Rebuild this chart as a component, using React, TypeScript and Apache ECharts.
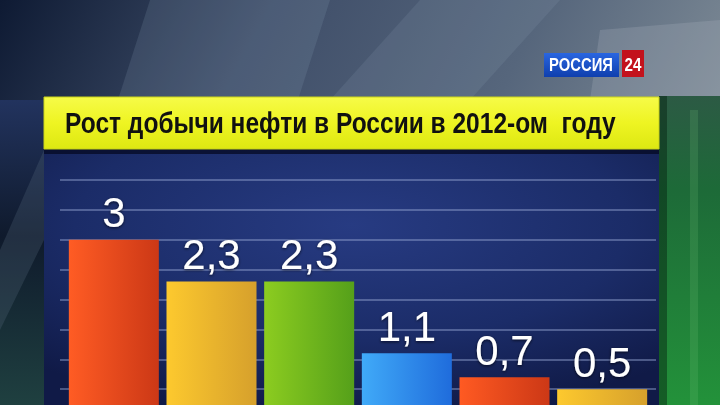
import React, { useEffect, useRef } from "react";
import * as echarts from "echarts";

const categories = ["1", "2", "3", "4", "5", "6"];
const values = [3, 2.3, 2.3, 1.1, 0.7, 0.5];
const yTicks = { min: 0, max: 4, interval: 0.5 };
const titleText = "Рост добычи нефти в России в 2012-ом  году";
const logoText = "РОССИЯ";
const logoNum = "24";

const barPalette: [string, string][] = [
  ["#ff5c24", "#cc3816"],
  ["#fdc92e", "#d6a02c"],
  ["#8ccc20", "#55a01a"],
  ["#40aaf8", "#1f6cdc"],
  ["#ff5a22", "#cc3816"],
  ["#fdc92e", "#d6a02c"],
];

const hGrad = (a: string, b: string) =>
  new echarts.graphic.LinearGradient(0, 0, 1, 0, [
    { offset: 0, color: a },
    { offset: 1, color: b },
  ]);

export default function App() {
  const ref = useRef<HTMLDivElement>(null);
  useEffect(() => {
    if (!ref.current) return;
    const chart = echarts.init(ref.current, null, { renderer: "svg" });
    const bg = [
      {
        type: "rect",
        z: -20,
        shape: { x: 0, y: 0, width: 720, height: 405 },
        style: {
          fill: new echarts.graphic.LinearGradient(0, 0, 1, 0.3, [
            { offset: 0, color: "#0e1a33" },
            { offset: 0.35, color: "#3e4d68" },
            { offset: 0.7, color: "#56667c" },
            { offset: 1, color: "#7e8b96" },
          ]),
        },
      },
      {
        type: "polygon",
        z: -19,
        shape: { points: [[150, 0], [330, 0], [200, 405], [20, 405]] },
        style: { fill: "rgba(140,160,185,0.18)" },
      },
      {
        type: "polygon",
        z: -19,
        shape: { points: [[420, 0], [560, 0], [470, 100], [330, 100]] },
        style: { fill: "rgba(150,165,185,0.15)" },
      },
      {
        type: "polygon",
        z: -19,
        shape: { points: [[600, 30], [720, 20], [720, 100], [590, 100]] },
        style: { fill: "rgba(170,180,190,0.25)" },
      },
      {
        type: "rect",
        z: -18,
        shape: { x: 0, y: 100, width: 44, height: 305 },
        style: {
          fill: new echarts.graphic.LinearGradient(0, 0, 0, 1, [
            { offset: 0, color: "#22335e" },
            { offset: 0.45, color: "#0f1a2c" },
            { offset: 1, color: "#1f4040" },
          ]),
        },
      },
      {
        type: "polygon",
        z: -17,
        shape: { points: [[44, 150], [44, 240], [0, 330], [0, 250]] },
        style: { fill: "rgba(90,110,130,0.25)" },
      },
      {
        type: "rect",
        z: -18,
        shape: { x: 659, y: 96, width: 61, height: 309 },
        style: {
          fill: new echarts.graphic.LinearGradient(0, 0, 0, 1, [
            { offset: 0, color: "#2c5a44" },
            { offset: 0.3, color: "#1d6a38" },
            { offset: 1, color: "#23923a" },
          ]),
        },
      },
      {
        type: "rect",
        z: -17,
        shape: { x: 659, y: 96, width: 8, height: 309 },
        style: { fill: "rgba(5,30,15,0.45)" },
      },
      {
        type: "rect",
        z: -17,
        shape: { x: 690, y: 110, width: 8, height: 295 },
        style: { fill: "rgba(120,200,130,0.18)" },
      },
      {
        type: "rect",
        z: -16,
        shape: { x: 44, y: 148, width: 615, height: 257 },
        style: {
          fill: new echarts.graphic.RadialGradient(0.5, 0.3, 0.75, [
            { offset: 0, color: "#273b82" },
            { offset: 0.6, color: "#1b2c68" },
            { offset: 1, color: "#101a47" },
          ]),
        },
      },
      {
        type: "rect",
        z: -15,
        shape: { x: 44, y: 148, width: 615, height: 6 },
        style: { fill: "rgba(5,10,35,0.75)" },
      },
      {
        type: "rect",
        z: 20,
        shape: { x: 44, y: 97, width: 615, height: 52 },
        style: {
          fill: new echarts.graphic.LinearGradient(0, 0, 0, 1, [
            { offset: 0, color: "#f6fb48" },
            { offset: 0.5, color: "#eef422" },
            { offset: 1, color: "#dde812" },
          ]),
          stroke: "#c9d31a",
          lineWidth: 1,
        },
      },
      {
        type: "text",
        z: 21,
        x: 65,
        y: 123,
        scaleX: 0.846,
        style: {
          text: titleText,
          fill: "#111111",
          font: "bold 29px 'Liberation Sans', Arial, sans-serif",
          verticalAlign: "middle",
        },
      },
      {
        type: "rect",
        z: 21,
        shape: { x: 544, y: 53, width: 75, height: 24 },
        style: {
          fill: new echarts.graphic.LinearGradient(0, 0, 0, 1, [
            { offset: 0, color: "#2a66e0" },
            { offset: 1, color: "#0f3fae" },
          ]),
        },
      },
      {
        type: "text",
        z: 22,
        x: 581,
        y: 65,
        scaleX: 0.78,
        style: {
          text: logoText,
          fill: "#ffffff",
          font: "bold 19px 'Liberation Sans', Arial, sans-serif",
          align: "center",
          verticalAlign: "middle",
        },
      },
      {
        type: "rect",
        z: 21,
        shape: { x: 622, y: 50, width: 22, height: 27 },
        style: { fill: "#c3121c" },
      },
      {
        type: "text",
        z: 22,
        x: 633,
        y: 64,
        scaleX: 0.8,
        style: {
          text: logoNum,
          fill: "#ffffff",
          font: "bold 19px 'Liberation Sans', Arial, sans-serif",
          align: "center",
          verticalAlign: "middle",
        },
      },
    ];

    chart.setOption({
      animation: false,
      graphic: { elements: bg },
      grid: [
        { left: 65, width: 586, top: 180, height: 239, outerBoundsMode: "none" },
        { left: 60, width: 596, top: 180, height: 239, outerBoundsMode: "none" },
      ],
      xAxis: [
        {
          type: "category",
          gridIndex: 0,
          data: categories,
          axisLine: { show: false },
          axisTick: { show: false },
          axisLabel: { show: false },
        },
        {
          type: "value",
          gridIndex: 1,
          min: 0,
          max: 1,
          show: false,
        },
      ],
      yAxis: [
        {
          type: "value",
          gridIndex: 0,
          min: yTicks.min,
          max: yTicks.max,
          interval: yTicks.interval,
          axisLine: { show: false },
          axisTick: { show: false },
          axisLabel: { show: false },
          splitLine: { show: false },
        },
        {
          type: "value",
          gridIndex: 1,
          min: yTicks.min,
          max: yTicks.max,
          interval: yTicks.interval,
          axisLine: { show: false },
          axisTick: { show: false },
          axisLabel: { show: false },
          splitLine: {
            show: true,
            lineStyle: { color: "rgba(150,165,210,0.6)", width: 1.5 },
          },
        },
      ],
      series: [
        {
          type: "bar",
          xAxisIndex: 0,
          yAxisIndex: 0,
          z: 5,
          barWidth: 90,
          data: values.map((v, i) => ({
            value: v,
            itemStyle: { color: hGrad(barPalette[i][0], barPalette[i][1]) },
          })),
          label: {
            show: true,
            position: "top",
            distance: 6,
            color: "#ffffff",
            fontSize: 42,
            fontFamily: "'Liberation Sans', Arial, sans-serif",
            textShadowColor: "rgba(0,0,20,0.7)",
            textShadowBlur: 3,
            textShadowOffsetY: 1,
            formatter: (p: any) => String(p.value).replace(".", ","),
          },
        },
      ],
    });
    return () => chart.dispose();
  }, []);
  return (
    <div
      ref={ref}
      style={{ position: "fixed", left: 0, top: 0, width: 720, height: 405 }}
    />
  );
}
